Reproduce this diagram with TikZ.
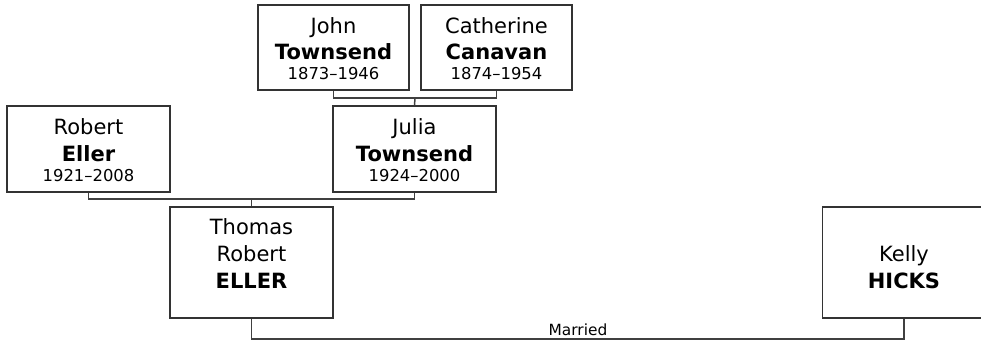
\documentclass[tikz,border=0pt]{standalone}
\usepackage{fontspec}
\setmainfont{DejaVu Sans}
\usetikzlibrary{positioning}

\tikzset{
  person/.style={draw=black!80, line width=0.75pt, fill=white, align=center,
                 inner sep=0pt, font=\fontsize{10.5}{13.33}\selectfont},
  tall/.style={person, minimum width=81.5pt, minimum height=55.5pt},
  mid/.style={person, minimum width=81.5pt, minimum height=43pt},
  small/.style={person, minimum width=75.5pt, minimum height=42.5pt},
  link/.style={draw=black!75, line width=0.75pt}
}
\newcommand{\topline}{\rule{0pt}{9.15pt}}
\newcommand{\yrs}[1]{\\[-3.33pt]{\fontsize{8.2}{10}\selectfont\rule{0pt}{0pt}#1}}

\begin{document}
\begin{tikzpicture}[x=0.5pt, y=-0.5pt]
        \useasboundingbox (0,0) rectangle (981,344);
        \clip (0,0) rectangle (981,344);
        \node[small] (john) at (333.5,47.5) {\topline John\\\textbf{Townsend}\yrs{1873–1946}};
        \node[small] (catherine) at (496.5,47.5) {\topline Catherine\\\textbf{Canavan}\yrs{1874–1954}};
        \node[mid] (robert) at (88.5,149) {\topline Robert\\\textbf{Eller}\yrs{1921–2008}};
        \node[mid] (julia) at (414.5,149) {\topline Julia\\\textbf{Townsend}\yrs{1924–2000}};
        \node[tall] (thomas) at (251.5,262.5) {\topline Thomas\\Robert\\\textbf{ELLER}\yrs{}};
        \node[tall] (kelly) at (904,262.5) {\topline\\Kelly\\\textbf{HICKS}\yrs{}};
        \coordinate (jc) at (415,98);
        \coordinate (rj) at (251.5,199);
        \coordinate (tk) at (578,339);
        \draw[link] (john.south) |- (jc) -| (catherine.south);
        \draw[link] (jc) -- (julia.north);
        \draw[link] (robert.south) |- (rj) -| (julia.south);
        \draw[link] (rj) -- (thomas.north);
        \draw[link] (thomas.south) |- (tk) -| (kelly.south);
        \node[above=1.5pt of tk, inner sep=0pt, font=\fontsize{7.7}{9}\selectfont] (married) {Married};
      \end{tikzpicture}
\end{document}
